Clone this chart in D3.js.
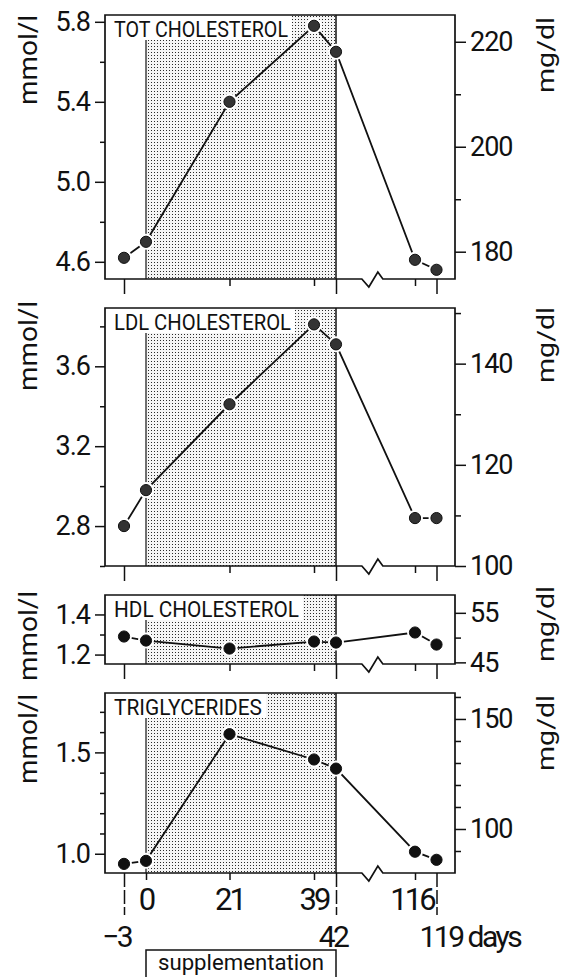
<!DOCTYPE html>
<html>
<head>
<meta charset="utf-8">
<script src="https://cdn.jsdelivr.net/npm/d3@7"></script>
<style>
body { margin: 0; background: #fff; }
svg text { font-family: Roboto, "DejaVu Sans", sans-serif; fill: #111; }
</style>
</head>
<body>
<div id="chart"></div>
<script>
// sampling days (days from start of supplementation)
const days = [-3, 0, 21, 39, 42, 116, 119];
// mmol/l
const totChol = [4.62, 4.70, 5.40, 5.78, 5.65, 4.61, 4.56];
const ldlChol = [2.80, 2.98, 3.41, 3.81, 3.71, 2.84, 2.84];
const hdlChol = [1.29, 1.27, 1.23, 1.265, 1.26, 1.31, 1.25];
const trigly = [0.95, 0.965, 1.59, 1.465, 1.42, 1.01, 0.97];
const series = [totChol, ldlChol, hdlChol, trigly];

const titles = ["TOT CHOLESTEROL", "LDL CHOLESTEROL", "HDL CHOLESTEROL", "TRIGLYCERIDES"];
const leftDomains = [[4.514, 5.834], [2.6, 3.892], [1.153, 1.497], [0.905, 1.793]];
const leftMajor = [[4.6, 5.0, 5.4, 5.8], [2.8, 3.2, 3.6], [1.2, 1.4], [1.0, 1.5]];
const leftMinor = [[4.8, 5.2, 5.6], [2.6, 3.0, 3.4, 3.8], [1.3], [1.1, 1.2, 1.3, 1.4, 1.6, 1.7]];
const rightDomains = [[174.8, 225.1], [100, 151], [44.67, 58.6], [80, 161.8]];
const rightMajor = [[180, 200, 220], [100, 120, 140], [45, 55], [100, 150]];
const rightMinor = [[190, 210], [110, 130, 150], [50], [90, 110, 120, 130, 140, 160]];

const upperDays = [0, 21, 39, 116];   // first label row
const lowerDays = [-3, 42, 119];      // second label row
const shortTickDays = [21, 39, 116];
const suppStart = 0, suppEnd = 42;

// layout
const width = 567, height = 977;
const left = 105, right = 455;
const panels = [
    {top: 15, bottom: 279, unitL: 15, unitR: 17, titleW: 174},
    {top: 308, bottom: 566, unitL: 301, unitR: 307, titleW: 177},
    {top: 595, bottom: 664, unitL: 591, unitR: 586, titleW: 185},
    {top: 693, bottom: 873, unitL: 694, unitR: 695, titleW: 148}
];

var svg = d3.select("#chart").append("svg")
    .attr("width", width)
    .attr("height", height);

var pat = svg.append("defs").append("pattern")
    .attr("id", "dots")
    .attr("patternUnits", "userSpaceOnUse")
    .attr("width", 3).attr("height", 3);
pat.append("rect").attr("width", 3).attr("height", 3).attr("fill", "#f5f5f5");
pat.append("rect").attr("x", 1).attr("y", 1).attr("width", 1).attr("height", 1).attr("fill", "#2a2a2a");

// the day axis is not to scale, so it is piecewise
const x = d3.scaleLinear()
    .domain(days)
    .range([124, 146, 229.5, 314, 336, 415, 436.5]);

const fmt1 = d3.format(".1f");

panels.forEach(function(p, i) {
    const g = svg.append("g");
    const yL = d3.scaleLinear().domain(leftDomains[i]).range([p.bottom, p.top]);
    const yR = d3.scaleLinear().domain(rightDomains[i]).range([p.bottom, p.top]);
    const last = i == panels.length - 1;

    // supplementation period
    g.append("rect")
        .attr("x", x(suppStart)).attr("y", p.top)
        .attr("width", x(suppEnd) - x(suppStart))
        .attr("height", p.bottom - p.top)
        .attr("fill", "url(#dots)");
    g.append("line")
        .attr("x1", x(suppStart)).attr("x2", x(suppStart))
        .attr("y1", p.top).attr("y2", p.bottom)
        .attr("stroke", "#111").attr("stroke-width", 1.2);
    g.append("line")
        .attr("x1", x(suppEnd)).attr("x2", x(suppEnd))
        .attr("y1", p.top).attr("y2", p.bottom)
        .attr("stroke", "#111").attr("stroke-width", 1.5);

    // title with white box
    g.append("rect")
        .attr("x", left).attr("y", p.top)
        .attr("width", p.titleW + 13).attr("height", 25)
        .attr("fill", "#fff");
    g.append("text")
        .attr("x", left + 9).attr("y", p.top + 21.5)
        .attr("font-size", 22)
        .attr("textLength", p.titleW)
        .attr("lengthAdjust", "spacingAndGlyphs")
        .text(titles[i]);

    // frame with break mark on the day axis
    const bx = x(suppEnd) + 0.46 * (x(116) - x(suppEnd));
    const b = p.bottom;
    g.append("path")
        .attr("d", "M" + (bx - 10.5) + "," + b + "L" + (bx - 3.5) + "," + (b + 8) +
            "L" + (bx + 5.5) + "," + (b - 7) + "L" + (bx + 10.5) + "," + b +
            "L" + right + "," + b + "L" + right + "," + p.top + "L" + left + "," + p.top +
            "L" + left + "," + b + "Z")
        .attr("fill", "none").attr("stroke", "#111").attr("stroke-width", 1.7)
        .attr("stroke-linejoin", "miter");

    // left axis
    g.append("g").attr("transform", "translate(" + left + ",0)")
        .call(d3.axisLeft(yL).tickValues(leftMajor[i]).tickSize(10).tickPadding(5).tickFormat(fmt1))
        .call(ax => ax.select(".domain").remove());
    g.append("g").attr("transform", "translate(" + left + ",0)")
        .call(d3.axisLeft(yL).tickValues(leftMinor[i]).tickSize(5).tickFormat(""))
        .call(ax => ax.select(".domain").remove());

    // right axis
    g.append("g").attr("transform", "translate(" + right + ",0)")
        .call(d3.axisRight(yR).tickValues(rightMajor[i]).tickSize(11).tickPadding(4).tickFormat(d3.format("d")))
        .call(ax => ax.select(".domain").remove());
    g.append("g").attr("transform", "translate(" + right + ",0)")
        .call(d3.axisRight(yR).tickValues(rightMinor[i]).tickSize(6).tickFormat(""))
        .call(ax => ax.select(".domain").remove());

    // day ticks
    const longAx = g.append("g").attr("transform", "translate(0," + p.bottom + ")")
        .call(d3.axisBottom(x).tickValues(lowerDays).tickSize(last ? 42 : 15).tickFormat(""))
        .call(ax => ax.select(".domain").remove());
    if (last) longAx.selectAll("line").attr("stroke-dasharray", "14,3");
    g.append("g").attr("transform", "translate(0," + p.bottom + ")")
        .call(d3.axisBottom(x).tickValues(last ? [0].concat(shortTickDays) : shortTickDays).tickSize(7).tickFormat(""))
        .call(ax => ax.select(".domain").remove());

    g.selectAll(".tick line").attr("stroke", "#111").attr("stroke-width", 1.5);
    g.selectAll(".tick text").style("font-size", "27px").style("letter-spacing", "-1px");

    // units
    g.append("text")
        .attr("transform", "translate(37," + p.unitL + ") rotate(-90)")
        .attr("text-anchor", "end")
        .attr("font-size", 25)
        .attr("textLength", 90).attr("lengthAdjust", "spacingAndGlyphs")
        .text("mmol/l");
    g.append("text")
        .attr("transform", "translate(554," + p.unitR + ") rotate(-90)")
        .attr("text-anchor", "end")
        .attr("font-size", 24)
        .attr("textLength", 76).attr("lengthAdjust", "spacingAndGlyphs")
        .text("mg/dl");

    // data
    const pts = days.map((d, k) => ({day: d, v: series[i][k]}));
    g.append("path")
        .datum(pts)
        .attr("d", d3.line().x(d => x(d.day)).y(d => yL(d.v)))
        .attr("fill", "none").attr("stroke", "#111").attr("stroke-width", 1.8);
    g.selectAll(".halo").data(pts).enter().append("circle")
        .attr("cx", d => x(d.day)).attr("cy", d => yL(d.v))
        .attr("r", 8).attr("fill", "#fff");
    g.selectAll(".dot").data(pts).enter().append("circle")
        .attr("cx", d => x(d.day)).attr("cy", d => yL(d.v))
        .attr("r", 5.6).attr("fill", i < 2 ? "#333" : "#111")
        .attr("stroke", "#111").attr("stroke-width", 1);
});

// day labels
svg.selectAll(".upLab").data(upperDays).enter().append("text")
    .attr("x", d => d == 116 ? x(d) - 3 : x(d)).attr("y", 910)
    .attr("text-anchor", "middle")
    .attr("font-size", 31)
    .style("letter-spacing", "-3px")
    .text(d => d);
svg.selectAll(".lowLab").data(lowerDays).enter().append("text")
    .attr("x", d => d == -3 ? x(d) + 7 : d == 119 ? x(d) - 17 : x(d) - 3)
    .attr("y", 947)
    .attr("text-anchor", d => d == -3 ? "end" : d == 119 ? "start" : "middle")
    .attr("font-size", 30)
    .style("letter-spacing", "-2.5px")
    .text(d => d == -3 ? "\u22123" : d == 119 ? d + " days" : d);

// supplementation box
svg.append("rect")
    .attr("x", x(suppStart)).attr("y", 950)
    .attr("width", x(suppEnd) - x(suppStart)).attr("height", 40)
    .attr("fill", "none").attr("stroke", "#111").attr("stroke-width", 1.5);
svg.append("text")
    .attr("x", (x(suppStart) + x(suppEnd)) / 2).attr("y", 970)
    .attr("text-anchor", "middle")
    .attr("font-size", 22)
    .attr("textLength", 166).attr("lengthAdjust", "spacingAndGlyphs")
    .text("supplementation");
</script>
</body>
</html>
